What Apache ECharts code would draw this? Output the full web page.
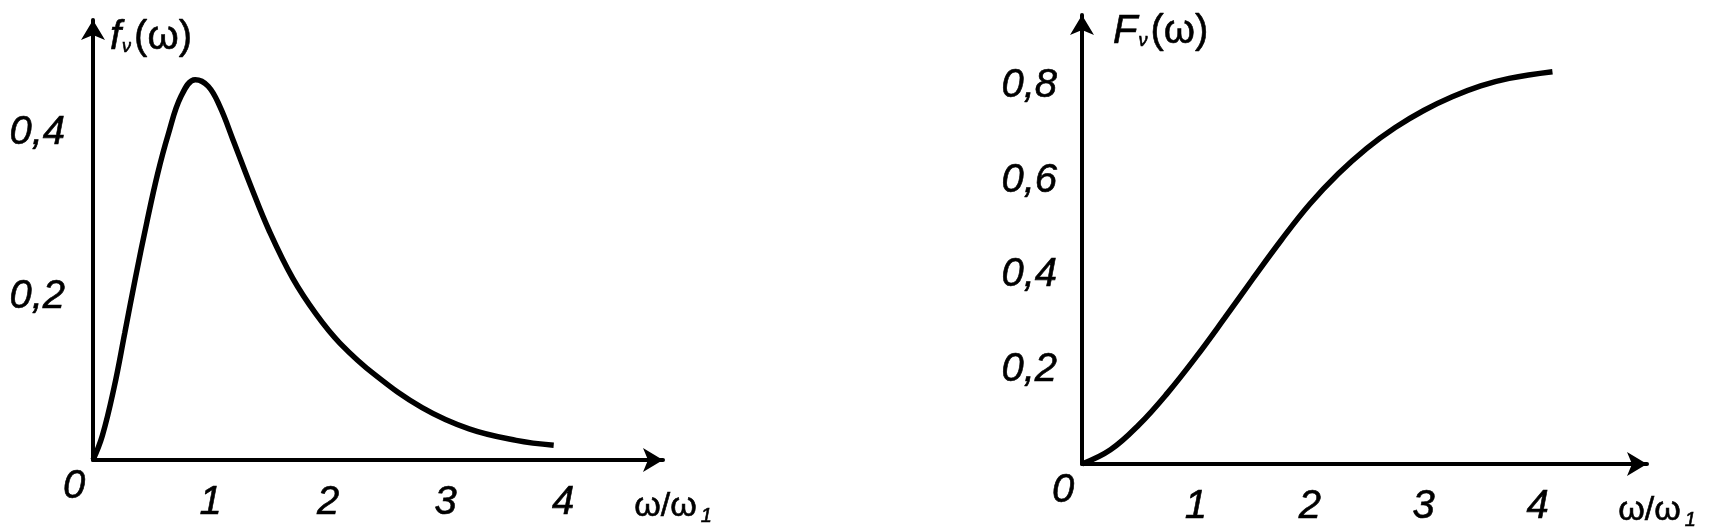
<!DOCTYPE html>
<html>
<head>
<meta charset="utf-8">
<script src="https://cdn.jsdelivr.net/npm/echarts/dist/echarts.min.js"></script>
<style>
  html, body { margin: 0; padding: 0; background: #fff; }
  #chart { width: 1735px; height: 532px; }
</style>
</head>
<body>
<div id="chart"></div>
<script>
// spectral density f_v(w) against w/w1
const leftX = [0, 0.08, 0.18, 0.27, 0.36, 0.46, 0.55, 0.64, 0.75, 0.87, 0.98, 1.08, 1.19, 1.34, 1.50, 1.70, 1.90, 2.10, 2.40, 2.80, 3.20, 3.60, 3.92];
const leftY = [0, 0.030, 0.089, 0.155, 0.222, 0.292, 0.350, 0.398, 0.445, 0.465, 0.457, 0.432, 0.392, 0.336, 0.280, 0.222, 0.178, 0.143, 0.104, 0.064, 0.038, 0.024, 0.018];

// cumulative F_v(w) against w/w1
const rightX = [0, 0.25, 0.5, 0.75, 1.0, 1.25, 1.5, 1.75, 2.0, 2.25, 2.5, 2.75, 3.0, 3.25, 3.5, 3.75, 4.13];
const rightY = [0, 0.030, 0.083, 0.150, 0.226, 0.308, 0.392, 0.474, 0.550, 0.614, 0.668, 0.712, 0.748, 0.777, 0.800, 0.816, 0.830];

const xTicks = [1, 2, 3, 4];
const leftYTicks = [0.2, 0.4];
const rightYTicks = [0.2, 0.4, 0.6, 0.8];

const FONT = 'Liberation Sans';
const INK = { color: '#000', textBorderColor: '#000', textBorderWidth: 0.6 };

function pairs(xs, ys) {
  return xs.map((x, i) => [x, ys[i]]);
}

function hasTick(list, v) {
  return list.some(t => Math.abs(t - v) < 1e-6);
}

function xAxisFor(gridIndex, max) {
  return {
    type: 'value',
    gridIndex: gridIndex,
    min: 0,
    max: max,
    interval: 1,
    splitLine: { show: false },
    axisTick: { show: false },
    axisLine: {
      show: true,
      symbol: ['none', 'arrow'],
      symbolSize: [18, 20],
      lineStyle: { color: '#000', width: 4 }
    },
    axisLabel: Object.assign({
      margin: 23,
      fontSize: 40,
      fontStyle: 'italic',
      fontFamily: FONT,
      formatter: function (v) {
        if (v === 0) return '{o|0}';
        return hasTick(xTicks, v) ? String(v) : '';
      },
      rich: {
        o: Object.assign({ fontSize: 40, lineHeight: 8, fontStyle: 'italic', fontFamily: FONT, padding: [0, 38, 0, 0] }, INK)
      }
    }, INK),
    name: '{w|ω/ω}{s|1}',
    nameLocation: 'end',
    nameGap: 10,
    nameTextStyle: {
      align: 'center',
      verticalAlign: 'top',
      padding: [28, 0, 0, 0],
      rich: {
        w: Object.assign({ fontSize: 34, fontFamily: FONT }, INK),
        s: Object.assign({ fontSize: 20, fontStyle: 'italic', fontFamily: FONT, padding: [18, 0, 0, 4] }, INK)
      }
    }
  };
}

function yAxisFor(gridIndex, max, ticks, label, margin, gap, padLeft) {
  return {
    type: 'value',
    gridIndex: gridIndex,
    min: 0,
    max: max,
    interval: 0.2,
    splitLine: { show: false },
    axisTick: { show: false },
    axisLine: {
      show: true,
      symbol: ['none', 'arrow'],
      symbolSize: [18, 20],
      lineStyle: { color: '#000', width: 4 }
    },
    axisLabel: Object.assign({
      margin: margin,
      fontSize: 40,
      fontStyle: 'italic',
      fontFamily: FONT,
      formatter: function (v) {
        return hasTick(ticks, v) ? v.toFixed(1).replace('.', ',') : '';
      }
    }, INK),
    name: label,
    nameLocation: 'end',
    nameGap: gap,
    nameTextStyle: {
      align: 'left',
      verticalAlign: 'middle',
      padding: [0, 0, 0, padLeft],
      rich: {
        a: Object.assign({ fontSize: 40, fontStyle: 'italic', fontFamily: FONT }, INK),
        p: Object.assign({ fontSize: 40, fontFamily: FONT }, INK),
        s: Object.assign({ fontSize: 18, fontStyle: 'italic', fontFamily: FONT, padding: [18, 3, 0, 1] }, INK)
      }
    }
  };
}

const chart = echarts.init(document.getElementById('chart'));

const option = {
  animation: false,
  backgroundColor: '#fff',
  grid: [
    { left: 93, top: 20, width: 570, height: 440 },
    { left: 1082, top: 15, width: 565, height: 449 }
  ],
  xAxis: [
    xAxisFor(0, 4.85),
    xAxisFor(1, 4.96)
  ],
  yAxis: [
    yAxisFor(0, 0.538, leftYTicks, '{a|f}{s|ν}{p|(ω)}', 28, -18, 17),
    yAxisFor(1, 0.95, rightYTicks, '{a|F}{s|ν}{p|(ω)}', 25, -17, 31)
  ],
  series: [
    {
      type: 'line',
      xAxisIndex: 0,
      yAxisIndex: 0,
      data: pairs(leftX, leftY),
      smooth: 0.4,
      showSymbol: false,
      lineStyle: { color: '#000', width: 5.5 },
      z: 5
    },
    {
      type: 'line',
      xAxisIndex: 1,
      yAxisIndex: 1,
      data: pairs(rightX, rightY),
      smooth: 0.4,
      showSymbol: false,
      lineStyle: { color: '#000', width: 5.5 },
      z: 5
    }
  ]
};

chart.setOption(option);
</script>
</body>
</html>
